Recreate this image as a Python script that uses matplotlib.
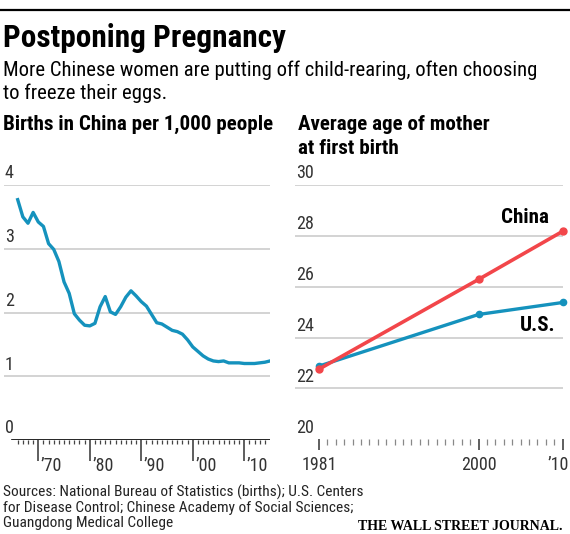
import os
import matplotlib
matplotlib.use("Agg")
import matplotlib.pyplot as plt
from matplotlib import font_manager
from matplotlib.font_manager import FontProperties

W, H = 570, 534

# births in China per 1,000 people (as printed on the chart)
birth_years = list(range(1966, 2016))
births = [3.77, 3.50, 3.40, 3.57, 3.42, 3.35, 3.08, 2.99, 2.80, 2.48,
          2.30, 1.98, 1.88, 1.80, 1.79, 1.83, 2.09, 2.25, 2.01, 1.97,
          2.09, 2.24, 2.34, 2.26, 2.17, 2.10, 1.97, 1.84, 1.82, 1.77,
          1.72, 1.70, 1.66, 1.57, 1.46, 1.39, 1.32, 1.27, 1.24, 1.23,
          1.24, 1.21, 1.21, 1.21, 1.20, 1.20, 1.20, 1.21, 1.22, 1.24]
births_yticks = [0, 1, 2, 3, 4]
births_xticks = [1970, 1980, 1990, 2000, 2010]
births_xlabels = ["\u201970", "\u201980", "\u201990", "\u201900", "\u201910"]

# average age of mother at first birth
age_years = [1981, 2000, 2010]
age_china = [22.76, 26.29, 28.18]
age_us = [22.88, 24.91, 25.38]
age_yticks = [20, 22, 24, 26, 28, 30]
age_xlabels = ["1981", "2000", "\u201910"]

BLUE = "#1592bd"
RED = "#f2464a"
GRID = "#c8c8c8"


# narrow sans if we can find one
def find_font(cands):
    files = {os.path.basename(f.fname).lower(): f.fname for f in font_manager.fontManager.ttflist}
    for c in cands:
        for base, path in files.items():
            if base.startswith(c):
                return FontProperties(fname=path)
    return None


reg = find_font(["liberationsansnarrow-regular", "robotocondensed-regular",
                 "dejavusanscondensed.", "roboto-regular"]) or FontProperties(family="DejaVu Sans")
bold = find_font(["liberationsansnarrow-bold.", "robotocondensed-bold.",
                  "dejavusanscondensed-bold.", "roboto-bold."]) or FontProperties(family="DejaVu Sans", weight="bold")

fig = plt.figure(figsize=(W / 100, H / 100), dpi=100)
renderer = fig.canvas.get_renderer()


def fx(px):
    return px / W


def fy(py):
    return 1 - py / H


def put(x, y, s, fp, size, width=None, **kw):
    t = fig.text(fx(x), fy(y), s, fontproperties=fp.copy(), va="baseline", **kw)
    t.set_fontsize(size)
    if width:
        w = t.get_window_extent(renderer).width
        t.set_fontsize(size * width / w)
    return t


# header
fig.add_artist(plt.Line2D([0, 1], [fy(10), fy(10)], color="black", lw=1.6))
put(3, 47, "Postponing Pregnancy", bold, 18, 282)
sub = put(3, 76, "More Chinese women are putting off child-rearing, often choosing", reg, 12.5, 534)
put(3, 99, "to freeze their eggs.", reg, sub.get_fontsize())
hd = put(3, 130, "Births in China per 1,000 people", bold, 13, 269)
put(298, 130, "Average age of mother", bold, hd.get_fontsize())
put(298, 154, "at first birth", bold, hd.get_fontsize())

tick_fp = reg.copy()
tick_fp.set_size(13)
lab_fp = bold.copy()
lab_fp.set_size(hd.get_fontsize())

# left chart
ax1 = fig.add_axes([fx(4), fy(440), fx(266), (440 - 185) / H])
x0, x1 = 1963.34, 2015.0
ax1.set_xlim(x0, x1)
ax1.set_ylim(0, 4)
for v in births_yticks[1:]:
    ax1.axhline(v, color=GRID, lw=1.1, zorder=1)
ax1.axhline(0, xmin=(1964.9 - x0) / (x1 - x0), color="black", lw=1.2, zorder=2)
ax1.plot(birth_years, births, color=BLUE, lw=2.4, solid_joinstyle="round", zorder=3)
for v in births_yticks:
    ax1.text(0.003, v + 0.04, str(v), transform=ax1.get_yaxis_transform(),
             fontproperties=tick_fp, color="#333333", va="bottom", ha="left")
ax1.set_xticks(births_xticks)
ax1.set_xticklabels([])
ax1.set_xticks(list(range(1966, 2015)), minor=True)
ax1.tick_params(axis="x", which="major", direction="out", length=15, width=1.1, color="#333333")
ax1.tick_params(axis="x", which="minor", direction="out", length=3.2, width=0.9, color="#444444")
ax1.set_yticks([])
for t, lab in zip(births_xticks, births_xlabels):
    ax1.text(t + 0.5, -0.065, lab, fontproperties=tick_fp, color="#333333", ha="left", va="top",
             transform=ax1.get_xaxis_transform(), clip_on=False)
for s in ax1.spines.values():
    s.set_visible(False)
ax1.patch.set_visible(False)

# right chart
ax2 = fig.add_axes([fx(295), fy(439.3), fx(267.7), (439.3 - 185) / H])
ax2.set_xlim(1978.14, 2010)
ax2.set_ylim(20, 30)
for v in age_yticks[1:]:
    ax2.axhline(v, color=GRID, lw=1.1, zorder=1)
ax2.plot(age_years, age_us, color=BLUE, lw=2.4, marker="o", ms=4.5, clip_on=False, zorder=3)
ax2.plot(age_years, age_china, color=RED, lw=2.6, marker="o", ms=5, clip_on=False, zorder=4)
for v in age_yticks:
    ax2.text(0.004, v + 0.1, str(v), transform=ax2.get_yaxis_transform(),
             fontproperties=tick_fp, color="#333333", va="bottom", ha="left")
ax2.text(2008.3, 28.74, "China", fontproperties=lab_fp, ha="right", va="center")
ax2.text(2009.2, 24.46, "U.S.", fontproperties=lab_fp, ha="right", va="center")
ax2.set_xticks(age_years)
ax2.set_xticklabels([])
ax2.set_xticks(list(range(1981, 2011)), minor=True)
ax2.tick_params(axis="x", which="major", direction="out", length=8, width=1.1, color="#333333")
ax2.tick_params(axis="x", which="minor", direction="out", length=4, width=0.9, color="#888888")
# last label sits a bit left of its tick so it stays inside the frame
for yr, lab, nudge in zip(age_years, age_xlabels, [0, 0, -0.6]):
    ax2.text(yr + nudge, -0.065, lab, fontproperties=tick_fp, color="#333333", ha="center", va="top",
             transform=ax2.get_xaxis_transform(), clip_on=False)
ax2.set_yticks([])
for s in ax2.spines.values():
    s.set_visible(False)
ax2.patch.set_visible(False)

# footer
src = put(3, 497, "Sources: National Bureau of Statistics (births); U.S. Centers", reg, 10.5, 360,
          color="#222222")
put(3, 512, "for Disease Control; Chinese Academy of Social Sciences;", reg, src.get_fontsize(),
    color="#222222")
put(3, 527, "Guangdong Medical College", reg, src.get_fontsize(), color="#222222")
wsj = FontProperties(family=["Liberation Serif", "DejaVu Serif"], weight="bold")
put(358, 530, "THE WALL STREET JOURNAL.", wsj, 11.5, 205)

fig.savefig("out.png", dpi=100)
